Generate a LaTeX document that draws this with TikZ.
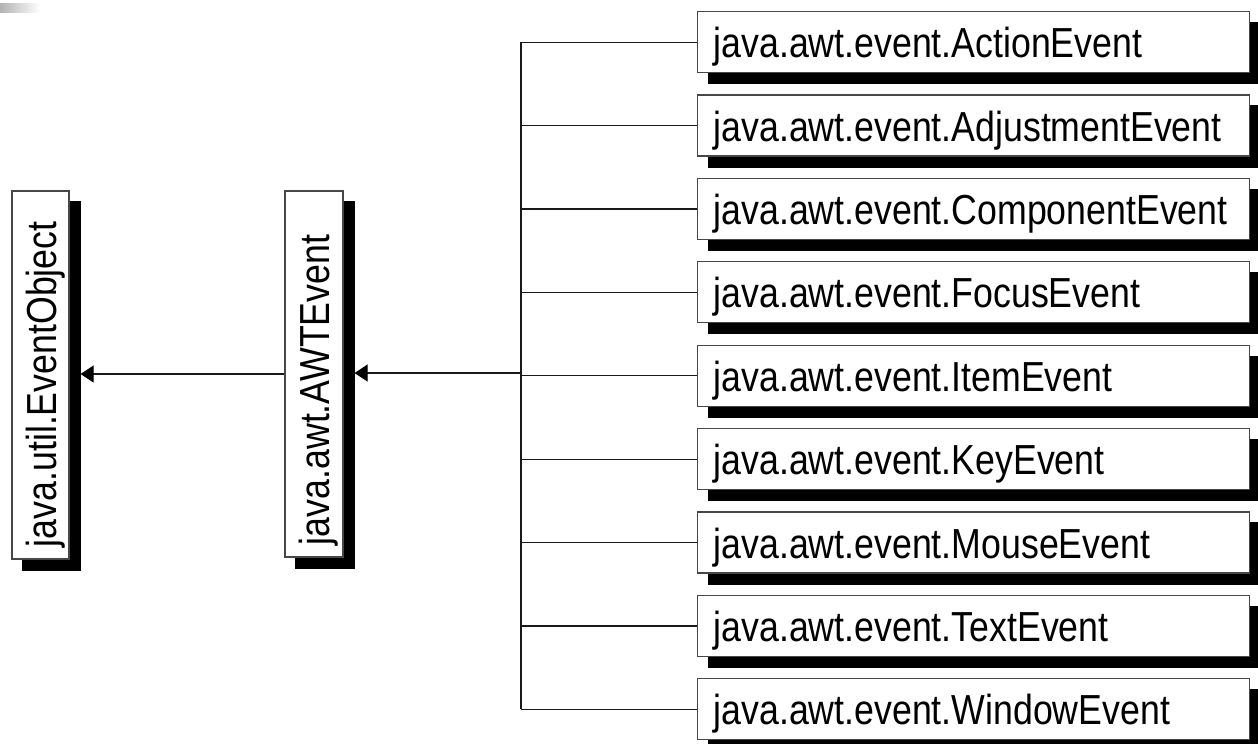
\documentclass[tikz,border=0pt]{standalone}
\usepackage{fontspec}
\newfontfamily\boxfont[FakeStretch=0.85]{Liberation Sans}
\usetikzlibrary{arrows.meta,backgrounds}

\tikzset{
  classbox/.style={rectangle, draw=black!72, line width=1.2pt, fill=white,
    inner ysep=0pt, text height=36pt, text depth=5pt, align=left,
    font=\boxfont\fontsize{42pt}{50pt}\selectfont},
  eventbox/.style={classbox, anchor=north west, minimum height=61pt,
    inner xsep=16pt, text width=520pt},
  basebox/.style={classbox, rotate=90, inner xsep=12pt},
  link/.style={line width=1.2pt, draw=black!90},
  inherit/.style={link, -{Triangle[length=13pt,width=17pt,fill=black,color=black]}},
  shadowfill/.style={fill=black},
}

\begin{document}
\begin{tikzpicture}[x=1pt, y=-1pt]
  \useasboundingbox (0,0) rectangle (1258,744);
  \clip (0,0) rectangle (1258,744);

  % faint grey strip in the upper left corner
  \shade[left color=black!30, right color=white] (0,3) rectangle (40,12);

  % base classes, lettered upwards
  \node[basebox, minimum height=57pt, text width=344pt] (eo) at (40.5,375)
    {java.util.EventObject};
  \node[basebox, minimum height=58pt, text width=342pt] (awt) at (314,374)
    {java.awt.AWTEvent};

  % event subclasses
  \foreach \name [count=\i] in {ActionEvent, AdjustmentEvent, ComponentEvent,
      FocusEvent, ItemEvent, KeyEvent, MouseEvent, TextEvent, WindowEvent}
    \node[eventbox] (e\i) at (697,{11+83.4*(\i-1)}) {java.awt.event.\name};

  % drop shadows behind every box
  \begin{scope}[on background layer]
    \foreach \n in {eo,awt,e1,e2,e3,e4,e5,e6,e7,e8,e9}
      \fill[shadowfill] ([shift={(11pt,-11pt)}]\n.south west)
        rectangle ([shift={(11pt,-11pt)}]\n.north east);
  \end{scope}

  % branching tree of subclasses
  \coordinate (br) at (521,373);
  \draw[link] (br |- e1.west) -- (br |- e9.west);
  \foreach \i in {1,...,9}
    \draw[link] (br |- e\i.west) -- (e\i.west);

  % inheritance arrows
  \draw[inherit] (br) -- ([xshift=11pt]awt.south |- br);
  \draw[inherit] (awt.north) -- ([xshift=11pt]eo.south |- awt.north);
\end{tikzpicture}
\end{document}
